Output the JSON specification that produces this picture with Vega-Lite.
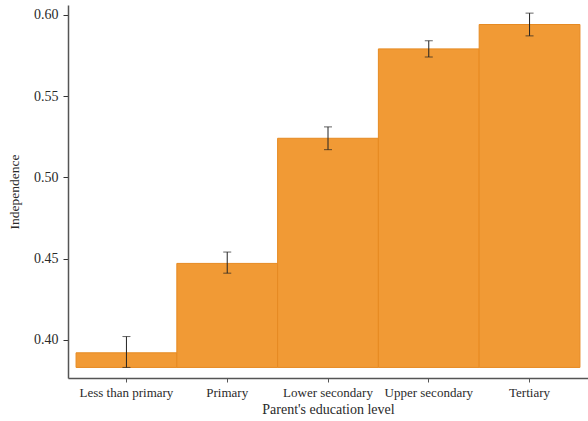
{
  "$schema": "https://vega.github.io/schema/vega-lite/v6.json",
  "autosize": "none",
  "padding": {"left": 68, "top": 5, "right": 0, "bottom": 43},
  "width": 520,
  "height": 373,
  "background": "white",
  "config": {
    "view": {"stroke": null},
    "font": "Liberation Serif",
    "axis": {"labelFont": "Liberation Serif", "titleFont": "Liberation Serif", "grid": false}
  },
  "data": {
    "values": [
      {"level": "Less than primary", "value": 0.392, "lower": 0.383, "upper": 0.402},
      {"level": "Primary", "value": 0.447, "lower": 0.441, "upper": 0.454},
      {"level": "Lower secondary", "value": 0.524, "lower": 0.517, "upper": 0.531},
      {"level": "Upper secondary", "value": 0.579, "lower": 0.574, "upper": 0.584},
      {"level": "Tertiary", "value": 0.594, "lower": 0.587, "upper": 0.601}
    ]
  },
  "encoding": {
    "x": {
      "field": "level",
      "type": "nominal",
      "sort": null,
      "scale": {"paddingInner": 0, "paddingOuter": 0.08},
      "axis": {
        "title": "Parent's education level",
        "labelAngle": 0,
        "labelFontSize": 13,
        "labelColor": "#2a2a2a",
        "titleFontSize": 14,
        "titleFontWeight": "normal",
        "titleColor": "#2a2a2a",
        "titlePadding": 3,
        "tickSize": 4,
        "labelPadding": 4,
        "domainColor": "#555",
        "tickColor": "#555",
        "domainWidth": 1.5
      }
    }
  },
  "layer": [
    {
      "mark": {"type": "bar", "fill": "#F19A35", "stroke": "#E68A22", "strokeWidth": 1},
      "encoding": {
        "y": {
          "field": "value",
          "type": "quantitative",
          "title": "Independence",
          "scale": {"domain": [0.3765, 0.606], "zero": false, "nice": false},
          "axis": {
            "values": [0.40, 0.45, 0.50, 0.55, 0.60],
            "format": ".2f",
            "labelFontSize": 14,
            "labelColor": "#2a2a2a",
            "titleFontSize": 13.5,
            "titleFontWeight": "normal",
            "titleColor": "#2a2a2a",
            "titlePadding": 12,
            "tickSize": 5,
            "labelPadding": 5,
            "domainColor": "#555",
            "tickColor": "#333",
            "domainWidth": 1.5
          }
        },
        "y2": {"datum": 0.383}
      }
    },
    {
      "mark": {"type": "errorbar", "ticks": {"size": 8, "color": "#222", "thickness": 1}, "rule": {"color": "#222", "strokeWidth": 1}},
      "encoding": {
        "y": {"field": "lower", "type": "quantitative", "title": "Independence"},
        "y2": {"field": "upper"}
      }
    }
  ]
}
